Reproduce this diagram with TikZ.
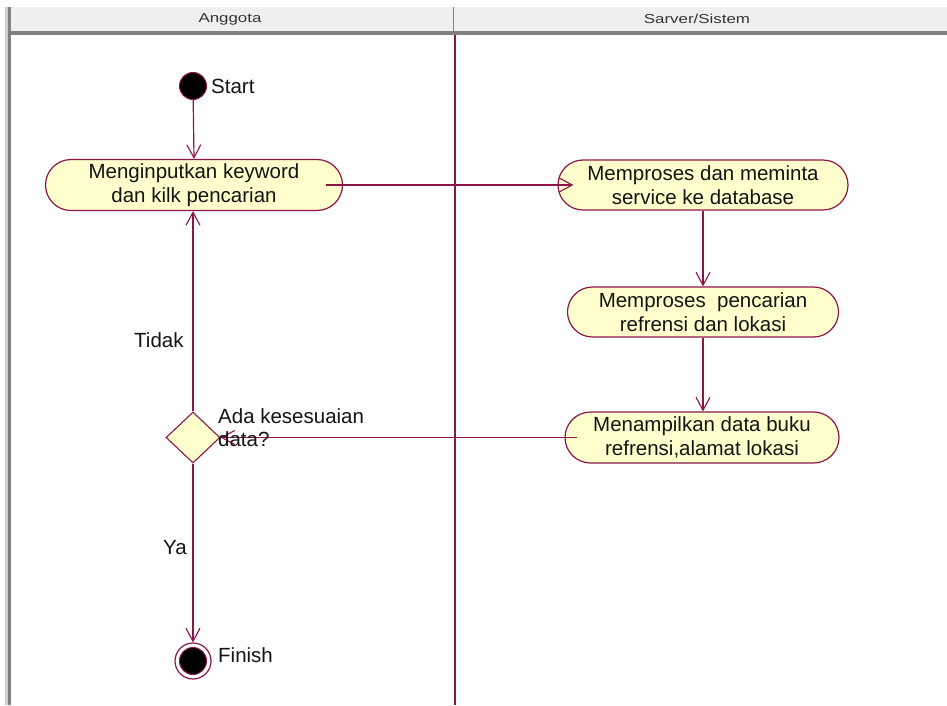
\documentclass[tikz,border=0pt]{standalone}
\usepackage{fontspec}
\setmainfont{Liberation Sans}
\newfontfamily\hdrfont[FakeStretch=1.3]{Liberation Sans}
\usetikzlibrary{shapes.misc,shapes.geometric,arrows.meta}

\definecolor{wire}{RGB}{140,22,72}
\definecolor{actfill}{RGB}{255,255,206}
\definecolor{hdrband}{RGB}{239,239,239}
\definecolor{hdrrule}{RGB}{128,128,128}
\definecolor{inkcol}{RGB}{20,20,20}

\tikzset{
  act/.style={rounded rectangle, draw=wire, fill=actfill, line width=1.2pt,
    align=center, inner sep=0pt, text=inkcol,
    font=\fontsize{20.5}{24}\selectfont},
  decision/.style={diamond, draw=wire, fill=actfill, line width=1.1pt,
    inner sep=0pt, minimum width=54pt, minimum height=51pt},
  flow/.style={draw=wire, line width=1.2pt,
    -{Straight Barb[length=13pt,width=14pt,line width=1.1pt]}},
  lbl/.style={inner sep=0pt, text=inkcol, font=\fontsize{20.5}{23}\selectfont},
  hdr/.style={inner sep=0pt, text=black!80, font=\hdrfont\fontsize{13}{15}\selectfont}
}

\begin{document}
\begin{tikzpicture}[x=1pt,y=-1pt]
\useasboundingbox[fill=white] (0,0) rectangle (947,705);

% swimlane header and frame
\fill[hdrband] (5,7) rectangle (947,31);
\fill[black!20] (5,7) rectangle (7.5,705);
\fill[hdrrule] (7.5,7) rectangle (10.5,705);
\fill[hdrrule] (7.5,31) rectangle (947,35);
\draw[hdrrule, line width=1pt] (453,7) -- (453,31);
\node[hdr] (hdranggota) at (230,19) {Anggota};
\node[hdr] (hdrserver) at (697,19) {Sarver/Sistem};
\draw[wire, line width=1.1pt] (455,35) -- (455,705);

% activities
\node[act, minimum width=297pt, minimum height=51pt] (input) at (194,185)
  {Menginputkan keyword\\dan kilk pencarian};
\node[act, minimum width=290pt, minimum height=50pt] (proses) at (703,185)
  {Memproses dan meminta\\service ke database};
\node[act, minimum width=271pt, minimum height=50pt] (cari) at (703,312)
  {Memproses\ \ pencarian\\refrensi dan lokasi};
\node[act, minimum width=274pt, minimum height=51pt] (tampil) at (702,437.5)
  {Menampilkan data buku\\refrensi,alamat lokasi};

% start, decision and end
\node[circle, fill=black, draw=wire, line width=1pt, minimum size=27pt, inner sep=0pt]
  (start) at (193,86) {};
\node[lbl, anchor=west] (lblstart) at (211,86) {Start};
\node[decision] (cek) at (193,437.5) {};
\node[circle, draw=wire, fill=white, line width=1.2pt, minimum size=36pt, inner sep=0pt]
  (finish) at (193,661) {};
\node[circle, fill=black, draw=wire, line width=1pt, minimum size=27pt, inner sep=0pt]
  (finishcore) at (finish) {};
\node[lbl, anchor=west] (lblfinish) at (218,655.5) {Finish};

% control flow
\draw[flow] (start) -- (input.north);
\draw[flow] ([xshift=-17pt]input.east) -- ([xshift=16pt]proses.west);
\draw[flow] (proses.south) -- (proses.south |- cari.north);
\draw[flow] (cari.south) -- (cari.south |- tampil.north);
\draw[flow] ([xshift=13pt]tampil.west) -- (cek.east);
\draw[flow] (cek.north) -- (cek.north |- input.south);
\draw[flow] (cek.south) -- (finish.north);

% guard labels
\node[lbl, anchor=west] (lbltidak) at (134,340) {Tidak};
\node[lbl, anchor=west] (lblya) at (163,548) {Ya};
\node[lbl, anchor=west, align=left] (lblcek) at (218,427.5) {Ada kesesuaian\\data?};
\end{tikzpicture}
\end{document}
